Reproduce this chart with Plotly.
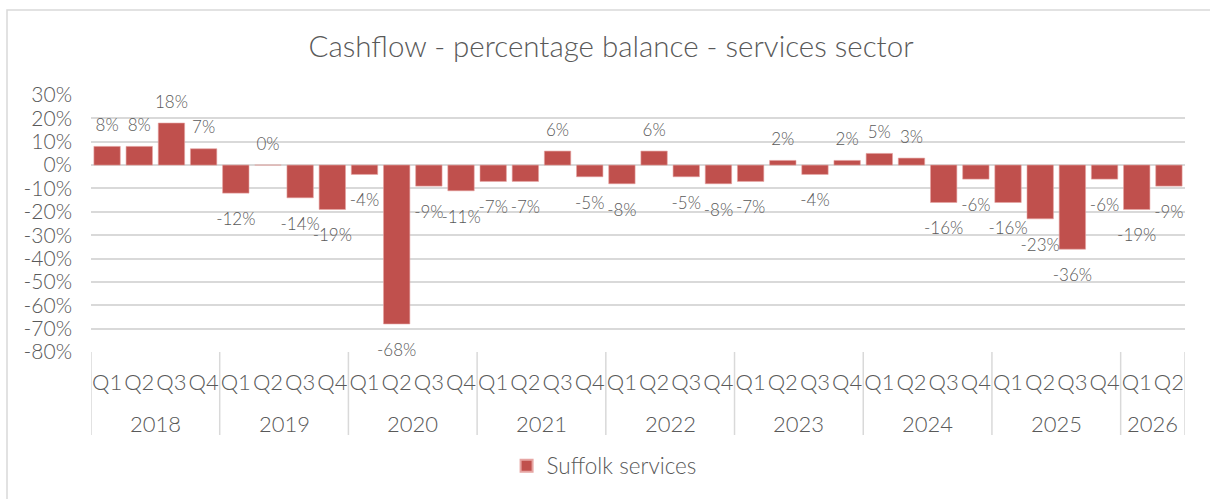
import plotly.graph_objects as go

# Quarterly cashflow percentage balance, Suffolk services sector
years = ["2018"] * 4 + ["2019"] * 4 + ["2020"] * 4 + ["2021"] * 4 + ["2022"] * 4 \
    + ["2023"] * 4 + ["2024"] * 4 + ["2025"] * 4 + ["2026"] * 2
quarters = ["Q1", "Q2", "Q3", "Q4"] * 8 + ["Q1", "Q2"]
balance = [8, 8, 18, 7,
           -12, 0, -14, -19,
           -4, -68, -9, -11,
           -7, -7, 6, -5,
           -8, 6, -5, -8,
           -7, 2, -4, 2,
           5, 3, -16, -6,
           -16, -23, -36, -6,
           -19, -9]
y_ticks = [30, 20, 10, 0, -10, -20, -30, -40, -50, -60, -70, -80]
y_tick_text = [f"{v}%" for v in y_ticks]

FONT = "Lato"
W = 300
GREY = "#595959"
LINE = "#D9D9D9"
BAR = "#C0504D"

# one category per quarter, labelled with the quarter only
cats = [f"{y} {q}" for y, q in zip(years, quarters)]

# year groups: first/last index of each year along the axis
groups = []
for i, y in enumerate(years):
    if not groups or groups[-1][0] != y:
        groups.append([y, i, i])
    else:
        groups[-1][2] = i

fig = go.Figure()
fig.add_trace(go.Bar(
    x=cats, y=balance,
    name="Suffolk services",
    marker=dict(color=BAR, line=dict(color="#E6A5A3", width=0.6)),
    hoverinfo="x+y",
))
# value labels above positive bars, below negative ones
# (a hidden marker sets the gap between bar end and label)
fig.add_trace(go.Scatter(
    x=cats, y=balance,
    mode="markers+text",
    marker=dict(size=[16 if v >= 0 else 29 for v in balance],
                color=BAR, opacity=0, line=dict(width=0)),
    text=[f"{v}%" for v in balance],
    textposition=["top center" if v >= 0 else "bottom center" for v in balance],
    textfont=dict(family=FONT, size=17, color=GREY, weight=W),
    cliponaxis=False, showlegend=False, hoverinfo="skip",
))

# year labels under the quarter labels
annotations = [dict(x=(a + b) / 2, y=(352 - 423) / 257, xref="x", yref="paper",
                    text=y, showarrow=False, yanchor="middle",
                    font=dict(family=FONT, size=22, color=GREY, weight=W))
               for y, a, b in groups]

# group dividers running down through both label rows
bounds = [a - 0.5 for _, a, _ in groups] + [groups[-1][2] + 0.5]
shapes = [dict(type="line", xref="x", yref="paper", x0=b, x1=b,
               y0=0, y1=(352 - 435) / 257, line=dict(color=LINE, width=1.5))
          for b in bounds]
shapes.append(dict(type="rect", xref="paper", yref="paper",
                   x0=(7 - 91) / 1094, x1=(1215 - 91) / 1094,
                   y0=(352 - 505) / 257, y1=(352 - 10) / 257,
                   line=dict(color=LINE, width=1.5), layer="below"))

fig.update_layout(
    width=1210, height=499,
    margin=dict(l=91, r=25, t=95, b=147),
    paper_bgcolor="white", plot_bgcolor="white",
    font=dict(family=FONT, color=GREY, weight=W),
    bargap=0.18,
    title=dict(text="Cashflow - percentage balance - services sector",
               x=0.505, xref="container", xanchor="center",
               y=1 - 47 / 499, yref="container", yanchor="middle",
               font=dict(family=FONT, size=29.5, color=GREY, weight=W)),
    legend=dict(orientation="h", x=0.469, xanchor="center",
                y=-0.4436, yanchor="middle",
                font=dict(family=FONT, size=22.5, color=GREY, weight=W),
                itemsizing="constant"),
    yaxis=dict(range=[-80, 30], tickvals=y_ticks, ticktext=y_tick_text,
               showgrid=True, gridcolor=LINE, gridwidth=1.5,
               zeroline=True, zerolinecolor=LINE, zerolinewidth=1.5,
               showline=False, ticks="", ticklabelstandoff=18,
               tickfont=dict(family=FONT, size=21, color=GREY, weight=W)),
    xaxis=dict(type="category", tickvals=cats, ticktext=quarters,
               range=[-0.5, len(cats) - 0.5],
               showgrid=False, tickangle=0, showline=False, ticks="",
               ticklabelstandoff=15,
               tickfont=dict(family=FONT, size=22, color=GREY, weight=W)),
    annotations=annotations,
    shapes=shapes,
)

fig.write_html("out.html")
